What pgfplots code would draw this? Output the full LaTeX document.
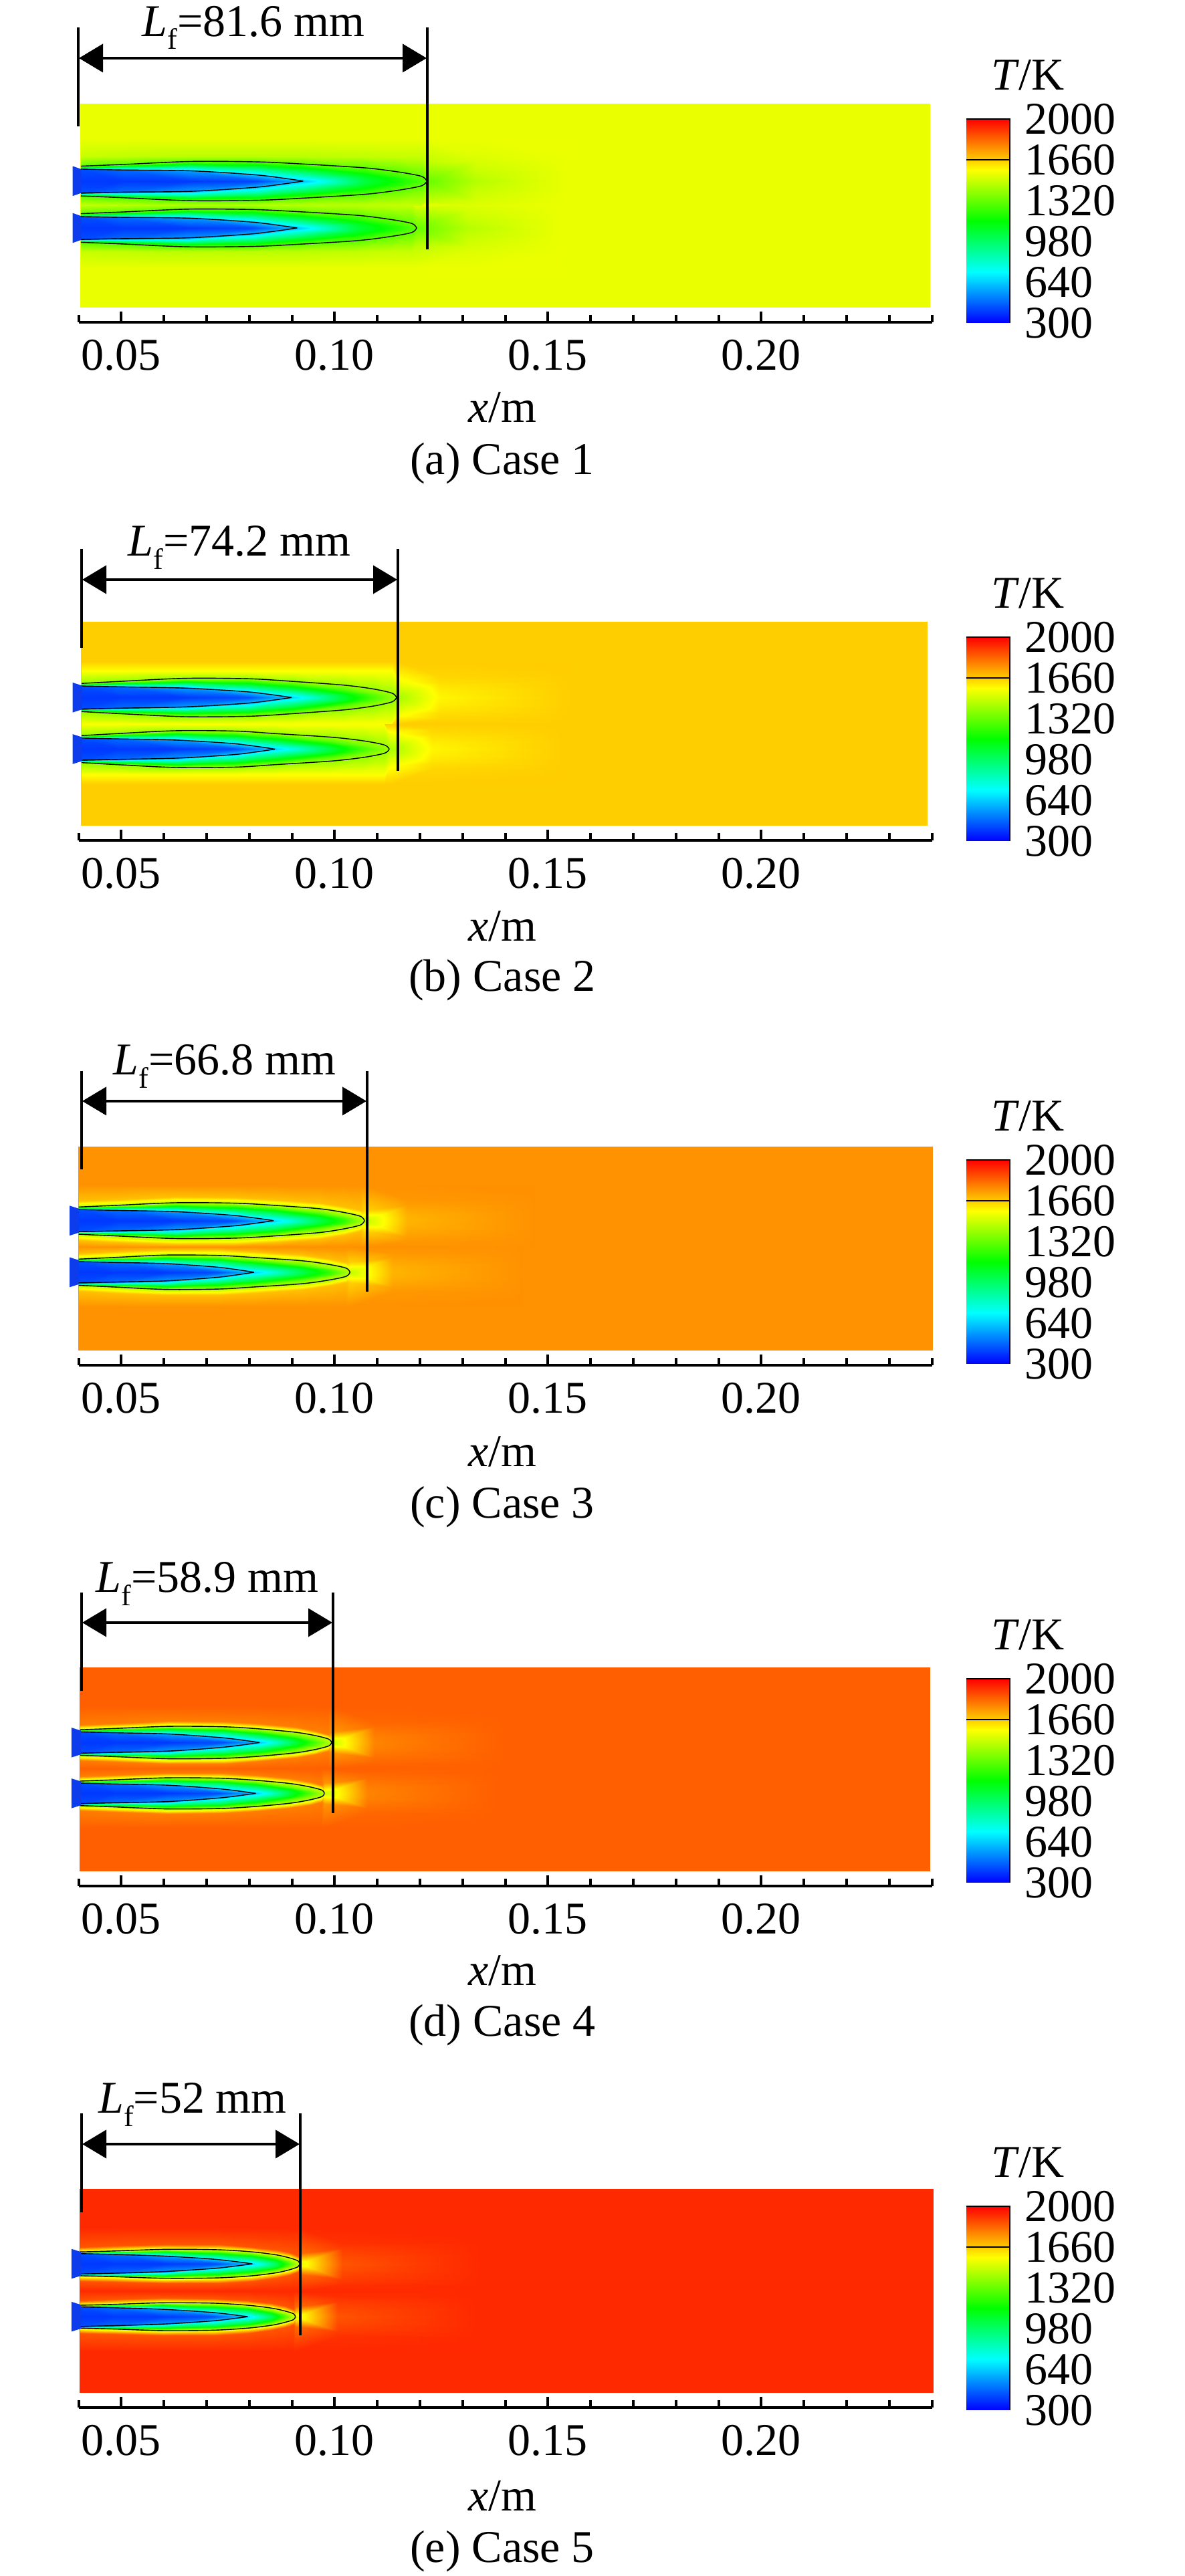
\documentclass[border=0pt]{standalone}
\usepackage{fontspec}
\setmainfont{Liberation Serif}
\usepackage{pgfplots}
\usepackage{pgfplotstable}
\pgfplotsset{compat=1.18}
\usetikzlibrary{arrows.meta}

% annotations are placed in reference pixels, 1 px = 0.25 pt
\tikzset{pixels/.style={x=0.25pt,y=0.25pt}}
\newcommand\tfont{\fontsize{17}{17}\selectfont}

\pgfplotsset{
  colormap={fluent}{rgb255(0)=(0,0,255) rgb255(1)=(0,255,255) rgb255(2)=(0,255,0) rgb255(3)=(255,255,0) rgb255(4)=(255,0,0)},
  colormap name=fluent,
  point meta min=300, point meta max=2000,
  pat/.style 2 args={at={(#1*0.25pt,{(3853-#2)*0.25pt})}},
  field/.style={
    scale only axis, width=319pt, height=81.48pt, anchor=south west, clip=false,
    xmin=0.04, xmax=0.24, ymin=-0.0273, ymax=0.0238,
    axis x line=bottom, axis y line=none, x axis line style={-, line width=1pt},
    xtick={0.05,0.10,0.15,0.20},
    minor xtick={0.04,0.06,0.07,0.08,0.09,0.11,0.12,0.13,0.14,0.16,0.17,0.18,0.19,0.21,0.22,0.23,0.24},
    tick align=inside, tick style={line width=1pt, black},
    major tick length=4pt, minor tick length=2.75pt,
    xticklabel style={font=\tfont, inner sep=0pt, yshift=-6.4pt,
      /pgf/number format/fixed, /pgf/number format/fixed zerofill,
      /pgf/number format/precision=2, /pgf/number format/assume math mode=true},
  },
  bar/.style={
    scale only axis, width=16.25pt, height=76.25pt, anchor=south west, clip=false,
    xmin=0, xmax=1, ymin=300, ymax=2000, axis line style={draw=none},
    xtick=\empty, ytick={300,640,980,1320,1660,2000}, yticklabel pos=right,
    tick style={draw=none}, major tick length=0pt,
    yticklabel style={font=\tfont, anchor=west, inner sep=0pt, xshift=5.5pt, /pgf/number format/assume math mode=true,
      /pgf/number format/1000 sep={}},
  },
}

% field bounds and background temperature
\newcommand\background[3]{%
  \addplot[surf,shader=flat,mesh/cols=2,point meta=explicit] coordinates {
    (#1,-0.0238)[#3] (#2,-0.0238)[#3]
    (#1,0.0238)[#3] (#2,0.0238)[#3]};}
% table, x column, centre line, side and width of this half
\newcommand\outerhalf[4]{%
  \addplot[surf,shader=interp,mesh/cols=11,point meta=explicit]
    table[x=#2,y expr={#3+#4*\thisrow{u}},meta=T]{#1};}
% same, stopped at the line between the two flames
\newcommand\innerhalf[5]{%
  \addplot[surf,shader=interp,mesh/cols=11,point meta=explicit]
    table[x=#2,y expr={#3+#4*min(\thisrow{u},#5)},meta=T]{#1};}
\newcommand\contours[4]{%
  \addplot[black,line width=0.35pt,smooth,no marks,skip coords between index={0}{11},skip coords between index={16}{66}]
    table[x=#2,y expr={#3+#4*\thisrow{u}}]{#1};
  \addplot[black,line width=0.35pt,smooth,no marks,skip coords between index={0}{33},skip coords between index={42}{66}]
    table[x=#2,y expr={#3+#4*\thisrow{u}}]{#1};}
\newcommand\inlet[3]{%
  \addplot[fill={rgb,255:red,12;green,60;blue,235},draw=none]
    table[row sep=\\,y expr={#3+\thisrow{u}}]{x u\\ #1 .0035\\ #2 .0028\\ #2 -.0028\\ #1 -.0035\\} -- cycle;}
\newcommand\flames[4]{% table, upper centre, lower centre, half gap
  \outerhalf{#1}{x}{#2}{1}
  \outerhalf{#1}{xb}{#3}{-0.96}
  \innerhalf{#1}{xb}{#3}{0.96}{#4}
  \innerhalf{#1}{x}{#2}{-1}{#4}
  \contours{#1}{x}{#2}{1}
  \contours{#1}{x}{#2}{-1}
  \contours{#1}{xb}{#3}{0.96}
  \contours{#1}{xb}{#3}{-0.96}
}
\newcommand\tbar[1]{%
  \begin{axis}[bar, pat={1445}{#1}]
    \addplot[surf,shader=interp,mesh/cols=2,point meta=explicit] coordinates {
      (0,300)[300] (1,300)[300]
      (0,2000)[2000] (1,2000)[2000]};
    \addplot[black,line width=0.3pt,no marks] coordinates {(0,2000) (1,2000) (1,300)};
    \addplot[black,line width=0.3pt,no marks] coordinates {(0,1660) (1,1660)};
  \end{axis}
  \begin{scope}[pixels]
  \node[anchor=base,inner sep=0pt,font=\tfont] at (1537,{3853-(#1-348)}) {\textit{T}/K};
  \end{scope}}
% left line x, right line x, line top, arrow y, left line bottom, right line bottom
\newcommand\lflabel[6]{%
  \begin{scope}[pixels]
  \draw[line width=1pt] (#1,{3853-#3}) -- (#1,{3853-#5});
  \draw[line width=1pt] (#2,{3853-#3}) -- (#2,{3853-#6});
  \draw[line width=1pt,{Triangle[length=9pt,width=10.5pt]}-{Triangle[length=9pt,width=10.5pt]}]
    ({#1+1},{3853-#4}) -- ({#2-1},{3853-#4});
  \end{scope}}
\newcommand\lftext[3]{%
  \begin{scope}[pixels]
  \node[anchor=base,inner sep=0pt,font=\fontsize{17}{17}\selectfont] at (#1,{3853-#2}) {\textit{L}\raisebox{-0.28em}{\fontsize{11}{11}\selectfont f}=#3 mm};
  \end{scope}}
\newcommand\under[3]{%
  \begin{scope}[pixels]
  \node[inner sep=0pt,font=\tfont] at (751,{3853-#1}) {\textit{x}/m};
  \node[inner sep=0pt,font=\tfont] at (751,{3853-#2}) {#3};
  \end{scope}}

\pgfplotstableread[row sep=\\]{
x xb u T\\
.0405 .0405 0 395\\ .0505 .0502 0 395\\ .0663 .0656 0 395\\ .0821 .0810 0 420\\ .0926 .0912 0 620\\ .1071 .1052 0 1050\\ .1152 .1130 0 1180\\ .1204 .1181 0 1280\\ .1216 .1192 0 1320\\ .1330 .1310 0 1450\\ .1550 .1530 0 1541\\
.0405 .0405 .0028 430\\ .0505 .0502 .0026 480\\ .0663 .0656 .0024 560\\ .0821 .0810 .0014 620\\ .0926 .0912 0 620\\ .1071 .1052 .0010 1090\\ .1152 .1130 .0007 1200\\ .1204 .1181 .0003 1290\\ .1216 .1192 0 1320\\ .1330 .1310 .0015 1470\\ .1550 .1530 .0025 1541\\
.0405 .0405 .0031 950\\ .0505 .0502 .0031 880\\ .0663 .0656 .0034 930\\ .0821 .0810 .0030 950\\ .0926 .0912 .0022 980\\ .1071 .1052 .0020 1190\\ .1152 .1130 .0014 1270\\ .1204 .1181 .0007 1300\\ .1216 .1192 0 1320\\ .1330 .1310 .0030 1490\\ .1550 .1530 .0040 1541\\
.0405 .0405 .0035 1300\\ .0505 .0502 .0039 1300\\ .0663 .0656 .0046 1300\\ .0821 .0810 .0045 1300\\ .0926 .0912 .0040 1300\\ .1071 .1052 .0031 1300\\ .1152 .1130 .0021 1305\\ .1204 .1181 .0011 1310\\ .1216 .1192 0 1320\\ .1330 .1310 .0045 1505\\ .1550 .1530 .0050 1541\\
.0405 .0405 .0057 1480\\ .0505 .0502 .0057 1470\\ .0663 .0656 .0057 1460\\ .0821 .0810 .0057 1460\\ .0926 .0912 .0057 1460\\ .1071 .1052 .0057 1470\\ .1152 .1130 .0057 1480\\ .1204 .1181 .0057 1480\\ .1216 .1192 .0045 1470\\ .1330 .1310 .0057 1520\\ .1550 .1530 .0057 1541\\
.0405 .0405 .0100 1541\\ .0505 .0502 .0100 1541\\ .0663 .0656 .0100 1541\\ .0821 .0810 .0100 1541\\ .0926 .0912 .0100 1541\\ .1071 .1052 .0100 1541\\ .1152 .1130 .0100 1541\\ .1204 .1181 .0100 1541\\ .1216 .1192 .0100 1541\\ .1330 .1310 .0100 1541\\ .1550 .1530 .0100 1541\\
}\casea

\pgfplotstableread[row sep=\\]{
x xb u T\\
.0407 .0407 0 395\\ .0500 .0492 0 395\\ .0650 .0630 0 395\\ .0799 .0768 0 430\\ .0899 .0860 0 640\\ .1022 .0994 0 1060\\ .1091 .1069 0 1270\\ .1135 .1117 0 1390\\ .1145 .1128 0 1420\\ .1245 .1228 0 1590\\ .1560 .1540 0 1658\\
.0407 .0407 .0027 430\\ .0500 .0492 .0025 480\\ .0650 .0630 .0022 560\\ .0799 .0768 .0013 630\\ .0899 .0860 0 640\\ .1022 .0994 .0009 1120\\ .1091 .1069 .0006 1300\\ .1135 .1117 .0003 1395\\ .1145 .1128 0 1420\\ .1245 .1228 .0012 1600\\ .1560 .1540 .0025 1658\\
.0407 .0407 .0030 1000\\ .0500 .0492 .0030 950\\ .0650 .0630 .0033 1000\\ .0799 .0768 .0029 1020\\ .0899 .0860 .0021 1040\\ .1022 .0994 .0019 1290\\ .1091 .1069 .0013 1370\\ .1135 .1117 .0006 1400\\ .1145 .1128 0 1420\\ .1245 .1228 .0025 1615\\ .1560 .1540 .0040 1658\\
.0407 .0407 .0033 1400\\ .0500 .0492 .0038 1400\\ .0650 .0630 .0045 1400\\ .0799 .0768 .0044 1400\\ .0899 .0860 .0038 1400\\ .1022 .0994 .0029 1400\\ .1091 .1069 .0020 1400\\ .1135 .1117 .0010 1410\\ .1145 .1128 0 1420\\ .1245 .1228 .0035 1630\\ .1560 .1540 .0050 1658\\
.0407 .0407 .0062 1570\\ .0500 .0492 .0062 1570\\ .0650 .0630 .0062 1570\\ .0799 .0768 .0062 1570\\ .0899 .0860 .0062 1570\\ .1022 .0994 .0062 1570\\ .1091 .1069 .0062 1570\\ .1135 .1117 .0062 1570\\ .1145 .1128 .0040 1560\\ .1245 .1228 .0050 1645\\ .1560 .1540 .0062 1658\\
.0407 .0407 .0085 1658\\ .0500 .0492 .0085 1658\\ .0650 .0630 .0085 1658\\ .0799 .0768 .0085 1658\\ .0899 .0860 .0085 1658\\ .1022 .0994 .0085 1658\\ .1091 .1069 .0085 1658\\ .1135 .1117 .0085 1658\\ .1145 .1128 .0085 1658\\ .1245 .1228 .0085 1658\\ .1560 .1540 .0085 1658\\
}\caseb

\pgfplotstableread[row sep=\\]{
x xb u T\\
.0400 .0400 0 395\\ .0491 .0482 0 395\\ .0629 .0606 0 395\\ .0766 .0729 0 430\\ .0857 .0811 0 640\\ .0964 .0924 0 1020\\ .1023 .0987 0 1220\\ .1061 .1027 0 1420\\ .1070 .1036 0 1470\\ .1170 .1136 0 1700\\ .1470 .1440 0 1758\\
.0400 .0400 .0026 430\\ .0491 .0482 .0024 480\\ .0629 .0606 .0021 560\\ .0766 .0729 .0012 630\\ .0857 .0811 0 640\\ .0964 .0924 .0009 1090\\ .1023 .0987 .0006 1270\\ .1061 .1027 .0003 1430\\ .1070 .1036 0 1470\\ .1170 .1136 .0012 1705\\ .1470 .1440 .0025 1758\\
.0400 .0400 .0029 1000\\ .0491 .0482 .0029 950\\ .0629 .0606 .0031 1000\\ .0766 .0729 .0027 1020\\ .0857 .0811 .0020 1040\\ .0964 .0924 .0018 1300\\ .1023 .0987 .0012 1400\\ .1061 .1027 .0006 1440\\ .1070 .1036 0 1470\\ .1170 .1136 .0024 1720\\ .1470 .1440 .0040 1758\\
.0400 .0400 .0032 1450\\ .0491 .0482 .0036 1450\\ .0629 .0606 .0042 1450\\ .0766 .0729 .0041 1450\\ .0857 .0811 .0036 1450\\ .0964 .0924 .0028 1450\\ .1023 .0987 .0019 1450\\ .1061 .1027 .0010 1455\\ .1070 .1036 0 1470\\ .1170 .1136 .0036 1735\\ .1470 .1440 .0050 1758\\
.0400 .0400 .0046 1680\\ .0491 .0482 .0050 1680\\ .0629 .0606 .0056 1680\\ .0766 .0729 .0055 1680\\ .0857 .0811 .0050 1680\\ .0964 .0924 .0042 1680\\ .1023 .0987 .0033 1680\\ .1061 .1027 .0024 1680\\ .1070 .1036 .0025 1650\\ .1170 .1136 .0048 1748\\ .1470 .1440 .0062 1758\\
.0400 .0400 .0085 1758\\ .0491 .0482 .0085 1758\\ .0629 .0606 .0085 1758\\ .0766 .0729 .0085 1758\\ .0857 .0811 .0085 1758\\ .0964 .0924 .0085 1758\\ .1023 .0987 .0085 1758\\ .1061 .1027 .0085 1758\\ .1070 .1036 .0085 1758\\ .1170 .1136 .0085 1758\\ .1470 .1440 .0085 1758\\
}\casec

\pgfplotstableread[row sep=\\]{
x xb u T\\
.0404 .0404 0 395\\ .0485 .0483 0 395\\ .0612 .0608 0 395\\ .0739 .0732 0 430\\ .0824 .0815 0 620\\ .0909 .0896 0 1050\\ .0956 .0941 0 1270\\ .0986 .0970 0 1430\\ .0993 .0976 0 1480\\ .1093 .1076 0 1780\\ .1400 .1380 0 1842\\
.0404 .0404 .0025 430\\ .0485 .0483 .0023 480\\ .0612 .0608 .0020 560\\ .0739 .0732 .0011 630\\ .0824 .0815 0 620\\ .0909 .0896 .0008 1120\\ .0956 .0941 .0005 1320\\ .0986 .0970 .0002 1440\\ .0993 .0976 0 1480\\ .1093 .1076 .0012 1785\\ .1400 .1380 .0025 1842\\
.0404 .0404 .0027 1000\\ .0485 .0483 .0027 950\\ .0612 .0608 .0029 1000\\ .0739 .0732 .0025 1020\\ .0824 .0815 .0018 1040\\ .0909 .0896 .0016 1320\\ .0956 .0941 .0011 1410\\ .0986 .0970 .0005 1450\\ .0993 .0976 0 1480\\ .1093 .1076 .0024 1800\\ .1400 .1380 .0040 1842\\
.0404 .0404 .0030 1450\\ .0485 .0483 .0033 1450\\ .0612 .0608 .0038 1450\\ .0739 .0732 .0037 1450\\ .0824 .0815 .0032 1450\\ .0909 .0896 .0024 1450\\ .0956 .0941 .0016 1450\\ .0986 .0970 .0008 1460\\ .0993 .0976 0 1480\\ .1093 .1076 .0036 1815\\ .1400 .1380 .0050 1842\\
.0404 .0404 .0042 1790\\ .0485 .0483 .0045 1790\\ .0612 .0608 .0050 1790\\ .0739 .0732 .0049 1790\\ .0824 .0815 .0044 1790\\ .0909 .0896 .0036 1790\\ .0956 .0941 .0028 1790\\ .0986 .0970 .0020 1790\\ .0993 .0976 .0025 1750\\ .1093 .1076 .0048 1830\\ .1400 .1380 .0062 1842\\
.0404 .0404 .0085 1842\\ .0485 .0483 .0085 1842\\ .0612 .0608 .0085 1842\\ .0739 .0732 .0085 1842\\ .0824 .0815 .0085 1842\\ .0909 .0896 .0085 1842\\ .0956 .0941 .0085 1842\\ .0986 .0970 .0085 1842\\ .0993 .0976 .0085 1842\\ .1093 .1076 .0085 1842\\ .1400 .1380 .0085 1842\\
}\cased

\pgfplotstableread[row sep=\\]{
x xb u T\\
.0404 .0404 0 395\\ .0481 .0479 0 395\\ .0604 .0598 0 395\\ .0726 .0717 0 430\\ .0807 .0796 0 640\\ .0863 .0852 0 1000\\ .0894 .0883 0 1280\\ .0914 .0904 0 1470\\ .0918 .0908 0 1520\\ .1018 .1008 0 1860\\ .1350 .1340 0 1933\\
.0404 .0404 .0024 430\\ .0481 .0479 .0022 480\\ .0604 .0598 .0018 560\\ .0726 .0717 .0010 630\\ .0807 .0796 0 640\\ .0863 .0852 .0007 1080\\ .0894 .0883 .0005 1330\\ .0914 .0904 .0002 1480\\ .0918 .0908 0 1520\\ .1018 .1008 .0012 1870\\ .1350 .1340 .0025 1933\\
.0404 .0404 .0026 1000\\ .0481 .0479 .0026 950\\ .0604 .0598 .0026 1050\\ .0726 .0717 .0022 1050\\ .0807 .0796 .0016 1050\\ .0863 .0852 .0014 1300\\ .0894 .0883 .0009 1430\\ .0914 .0904 .0004 1490\\ .0918 .0908 0 1520\\ .1018 .1008 .0024 1885\\ .1350 .1340 .0040 1933\\
.0404 .0404 .0028 1500\\ .0481 .0479 .0030 1500\\ .0604 .0598 .0034 1500\\ .0726 .0717 .0033 1500\\ .0807 .0796 .0028 1500\\ .0863 .0852 .0021 1500\\ .0894 .0883 .0014 1500\\ .0914 .0904 .0007 1505\\ .0918 .0908 0 1520\\ .1018 .1008 .0036 1900\\ .1350 .1340 .0050 1933\\
.0404 .0404 .0040 1860\\ .0481 .0479 .0042 1860\\ .0604 .0598 .0046 1860\\ .0726 .0717 .0045 1860\\ .0807 .0796 .0040 1860\\ .0863 .0852 .0033 1860\\ .0894 .0883 .0026 1860\\ .0914 .0904 .0019 1860\\ .0918 .0908 .0025 1820\\ .1018 .1008 .0048 1920\\ .1350 .1340 .0064 1933\\
.0404 .0404 .0085 1933\\ .0481 .0479 .0085 1933\\ .0604 .0598 .0085 1933\\ .0726 .0717 .0085 1933\\ .0807 .0796 .0085 1933\\ .0863 .0852 .0085 1933\\ .0894 .0883 .0085 1933\\ .0914 .0904 .0085 1933\\ .0918 .0908 .0085 1933\\ .1018 .1008 .0085 1933\\ .1350 .1340 .0085 1933\\
}\casee

\begin{document}
\begin{tikzpicture}
\path[use as bounding box] (0,0) rectangle (443pt,963.25pt);

% (a)
\begin{axis}[field, pat={117.6}{482}]
  \background{0.0405}{0.2394}{1541}
  \flames{\casea}{0.0058}{-0.0052}{0.0057}
  \inlet{0.0386}{0.0406}{0.0058}
  \inlet{0.0386}{0.0406}{-0.0052}
\end{axis}
\lflabel{117}{639}{41}{87}{189}{373}
\lftext{379}{55}{81.6}
\under{609}{693}{(a) Case 1}
\tbar{483}

% (b)
\begin{axis}[field, pat={117.6}{1257}]
  \background{0.0407}{0.2388}{1658}
  \flames{\caseb}{0.0062}{-0.0059}{0.0062}
  \inlet{0.0386}{0.0408}{0.0062}
  \inlet{0.0386}{0.0408}{-0.0059}
\end{axis}
\lflabel{122}{595}{821}{867}{969}{1153}
\lftext{358}{832}{74.2}
\under{1385}{1466}{(b) Case 2}
\tbar{1258}

% (c)
\begin{axis}[field, pat={117.6}{2042}]
  \background{0.0400}{0.2401}{1758}
  \flames{\casec}{0.0066}{-0.0055}{0.0062}
  \inlet{0.0379}{0.0401}{0.0066}
  \inlet{0.0379}{0.0401}{-0.0055}
\end{axis}
\lflabel{122}{549}{1602}{1647}{1749}{1932}
\lftext{336}{1608}{66.8}
\under{2171}{2254}{(c) Case 3}
\tbar{2040}

% (d)
\begin{axis}[field, pat={117.6}{2821}]
  \background{0.0404}{0.2395}{1842}
  \flames{\cased}{0.00635}{-0.00557}{0.0062}
  \inlet{0.0383}{0.0405}{0.00635}
  \inlet{0.0383}{0.0405}{-0.00557}
\end{axis}
\lflabel{122}{498}{2382}{2427}{2529}{2712}
\lftext{310}{2382}{58.9}
\under{2947}{3029}{(d) Case 4}
\tbar{2816}

% (e)
\begin{axis}[field, pat={117.6}{3601}]
  \background{0.0404}{0.2402}{1933}
  \flames{\casee}{0.0064}{-0.0060}{0.0064}
  \inlet{0.0383}{0.0405}{0.0064}
  \inlet{0.0383}{0.0405}{-0.0060}
\end{axis}
\lflabel{122}{449}{3161}{3207}{3309}{3493}
\lftext{288}{3161}{52}
\under{3733}{3816}{(e) Case 5}
\tbar{3605}
\end{tikzpicture}
\end{document}
